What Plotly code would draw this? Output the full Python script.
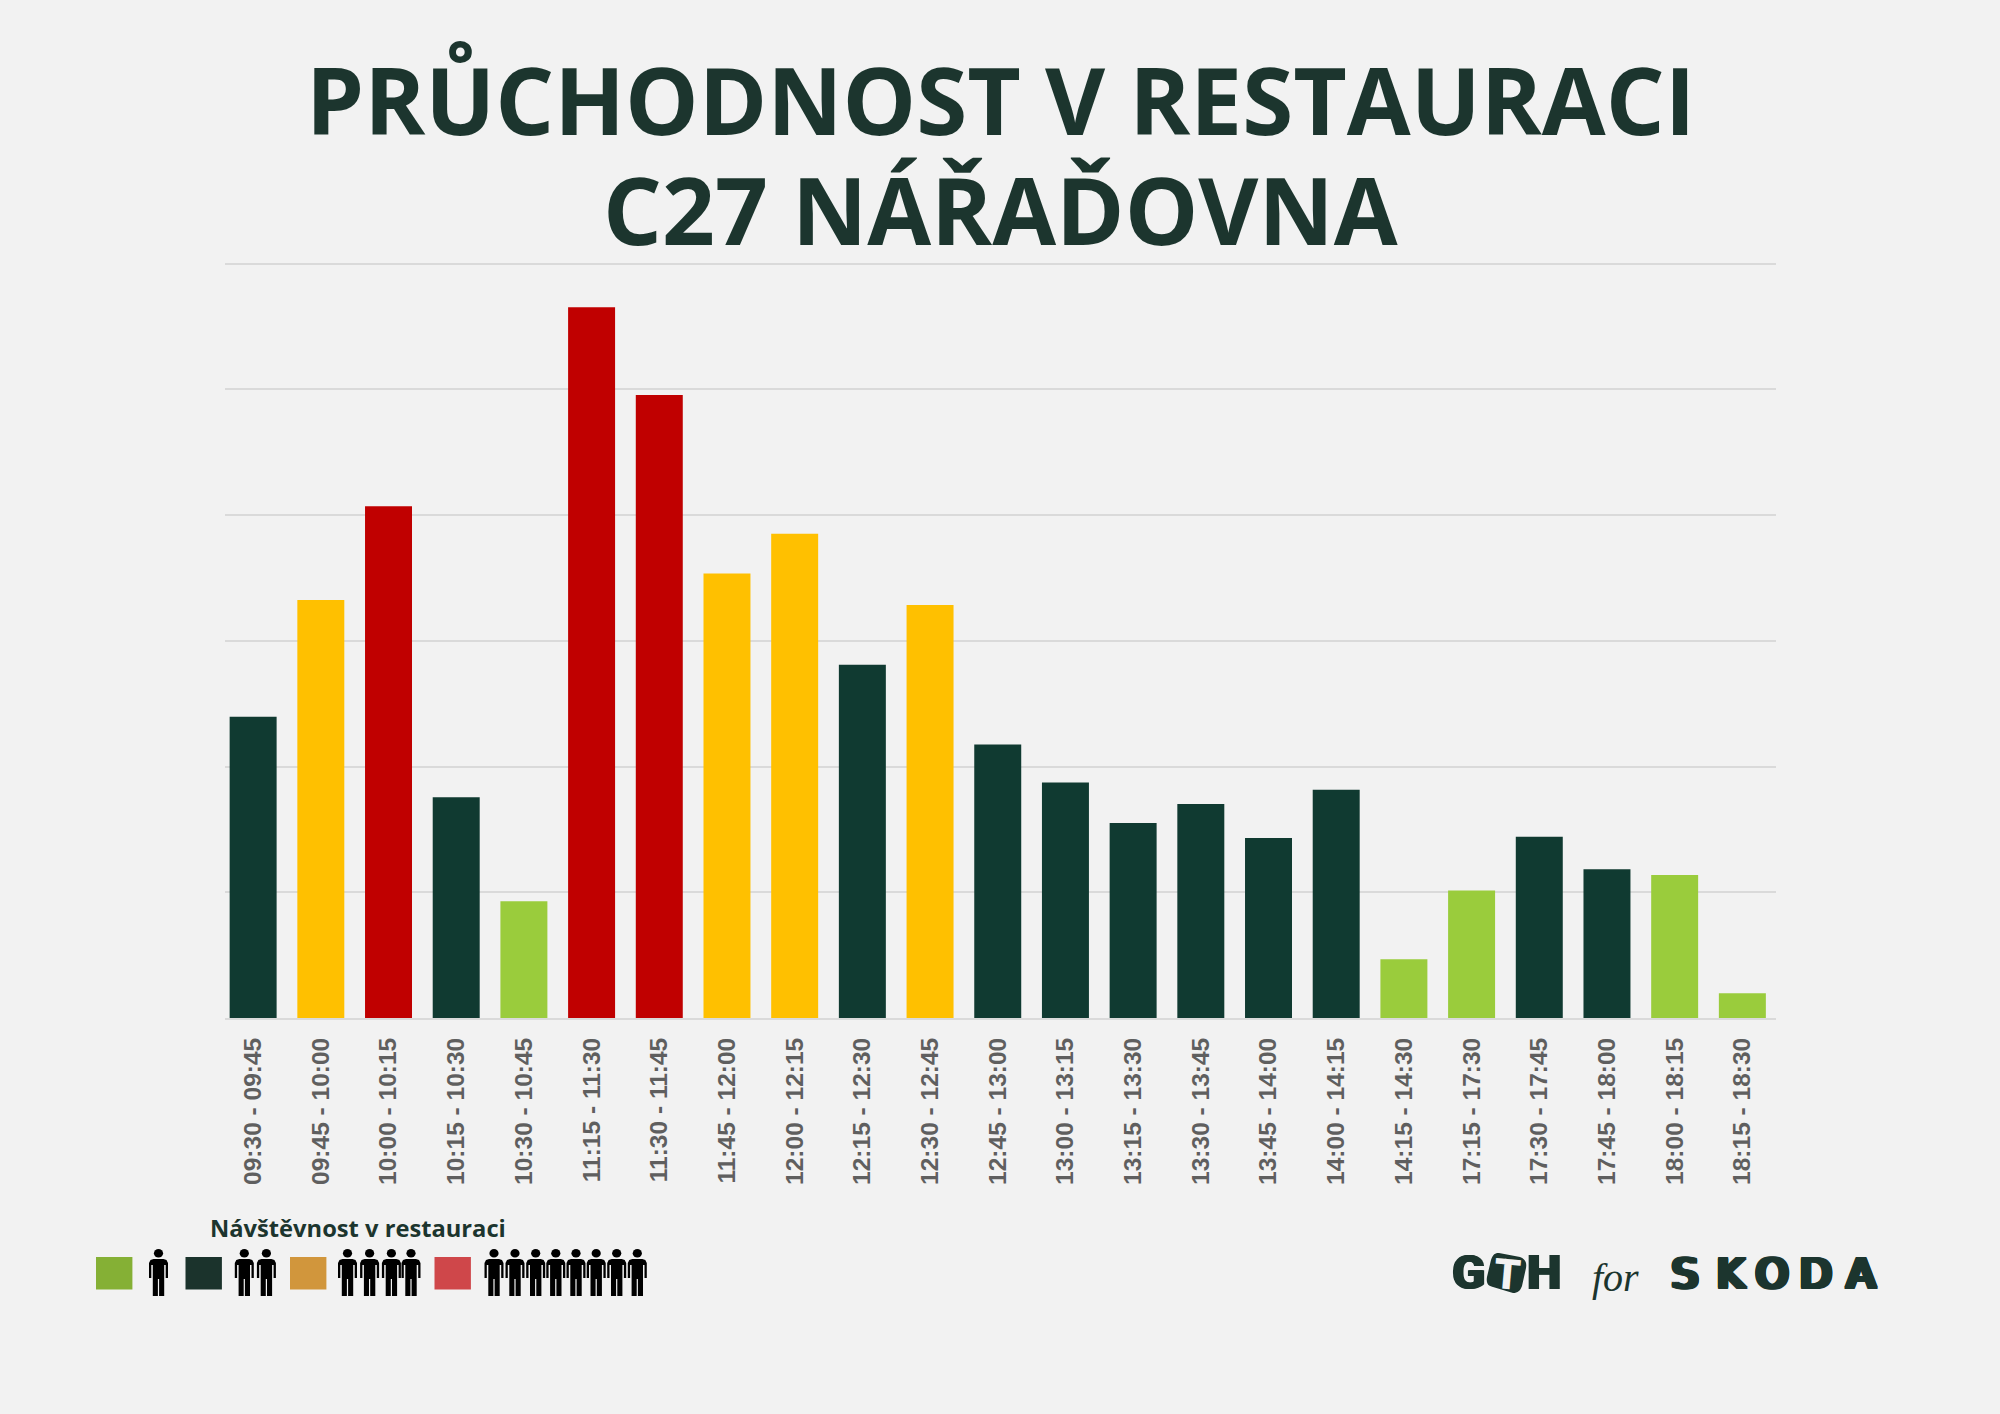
import plotly.graph_objects as go

W, H = 2000, 1414

slots = ["09:30 - 09:45", "09:45 - 10:00", "10:00 - 10:15", "10:15 - 10:30", "10:30 - 10:45",
         "11:15 - 11:30", "11:30 - 11:45", "11:45 - 12:00", "12:00 - 12:15", "12:15 - 12:30",
         "12:30 - 12:45", "12:45 - 13:00", "13:00 - 13:15", "13:15 - 13:30", "13:30 - 13:45",
         "13:45 - 14:00", "14:00 - 14:15", "14:15 - 14:30", "17:15 - 17:30", "17:30 - 17:45",
         "17:45 - 18:00", "18:00 - 18:15", "18:15 - 18:30"]
visits = [23.95, 33.25, 40.7, 17.55, 9.28, 56.52, 49.55, 35.35, 38.5, 28.1, 32.85, 21.75,
          18.72, 15.5, 17.02, 14.32, 18.15, 4.68, 10.13, 14.42, 11.82, 11.38, 1.96]
levels = ["d", "y", "r", "d", "g", "r", "r", "y", "y", "d", "y", "d",
          "d", "d", "d", "d", "d", "g", "g", "d", "d", "g", "g"]
level_colors = {"g": "#9ACC3C", "d": "#103A31", "y": "#FFC000", "r": "#C00000"}

INK = "#1C352E"
BG = "#F2F2F2"
GRID = "#DADADA"

legend_swatches = [(96, "#85B035"), (185.5, "#1B332C"), (290, "#D1963C"), (434.5, "#CF474A")]
legend_people = [[158.5], [244.3, 266.4], [347.5, 369.6, 391.4, 411],
                 [494, 515, 535.7, 555.8, 576, 596.2, 616.7, 637.3]]


def px(x):
    return x / W


def py(y):
    return 1 - y / H


def person_path(cx, top):
    """Standing figure in page pixels, without the head: shoulders, arms and two legs."""
    half = [(5, 10), (8, 11), (9.5, 14), (9.5, 29), (7.2, 29), (7.2, 16), (5.7, 16), (5.7, 47), (0.6, 47), (0.6, 30)]
    pts = half + [(-a, b) for a, b in reversed(half)]
    return "M " + " L ".join(f"{px(cx + a):.5f},{py(top + b):.5f}" for a, b in pts) + " Z"


shapes = []
for (x0, colour), group in zip(legend_swatches, legend_people):
    shapes.append(dict(type="rect", xref="paper", yref="paper", x0=px(x0), x1=px(x0 + 36.4),
                       y0=py(1289.5), y1=py(1257), fillcolor=colour, line_width=0))
    for cx in group:
        shapes.append(dict(type="path", xref="paper", yref="paper", path=person_path(cx, 1249),
                           fillcolor="#000000", line_width=0))
        shapes.append(dict(type="circle", xref="paper", yref="paper", x0=px(cx - 4.6), x1=px(cx + 4.6),
                           y0=py(1257.6), y1=py(1249), fillcolor="#000000", line_width=0))

# Rounded, slightly tilted tile behind the T of the GTH wordmark
shapes.append(dict(type="path", xref="paper", yref="paper", fillcolor=INK, line_width=0,
                   path="M {} C {} {} {} L {} C {} {} {} L {} C {} {} {} L {} C {} {} {} Z".format(
                       *[f"{px(a):.5f},{py(b):.5f}" for a, b in [
                           (1499, 1253), (1495, 1253), (1493, 1254), (1491, 1260),
                           (1487, 1277), (1486, 1283), (1488, 1286), (1493, 1287),
                           (1513, 1293), (1518, 1293), (1520, 1291), (1522, 1286),
                           (1526, 1268), (1527, 1262), (1525, 1259), (1520, 1257),
                           ]])))


def label(text, x, y, size, family="Open Sans", weight=700, color=INK, angle=0, shadow=None):
    font = dict(family=family, size=size, weight=weight, color=color)
    if shadow:
        font["shadow"] = shadow
    return dict(text=text, x=px(x), y=py(y), xref="paper", yref="paper", showarrow=False,
                xanchor="center", yanchor="bottom", textangle=angle, borderpad=0, borderwidth=0,
                font=font)


heavy = f"1px 0 0 {INK}, -1px 0 0 {INK}"
wide = ", ".join(f"{dx}px {dy}px 0 {INK}" for dx, dy in
                 [(3, 0), (-3, 0), (1.5, 0), (-1.5, 0), (3, 1), (-3, 1), (1.5, 1), (-1.5, 1), (0, 1), (3, -1), (-3, -1), (1.5, -1), (-1.5, -1), (0, -1)])

annotations = [
    label("PRŮCHODNOST V RESTAURACI", 1000, 162.5, 92.6),
    label("C27 NÁŘAĎOVNA", 1000, 272.5, 92.6),
    label("Návštěvnost v restauraci", 358, 1244, 23.7),
    label("G", 1468, 1301, 49, "Roboto", 900, shadow=heavy),
    label("T", 1507, 1300, 42, "Roboto", 900, BG, angle=5),
    label("H", 1544, 1301, 49, "Roboto", 900, shadow=heavy),
    label("for", 1615, 1300, 40, "Liberation Serif", 400),
]
annotations[-1]["font"]["style"] = "italic"
for ch, cx in zip("SKODA", [1685, 1731, 1772, 1816, 1861]):
    annotations.append(label(ch, cx, 1298, 41, "DejaVu Sans", 400, shadow=wide))

fig = go.Figure(go.Bar(x=slots, y=visits, width=0.694,
                       marker=dict(color=[level_colors[k] for k in levels], line_width=0)))
fig.update_layout(
    width=W, height=H, margin=dict(l=0, r=0, t=0, b=0, pad=0), autosize=False,
    paper_bgcolor=BG, plot_bgcolor=BG, showlegend=False,
    shapes=shapes, annotations=annotations,
    xaxis=dict(domain=[px(224.7), px(1776)], type="category", range=[-0.42, 22.497],
               tickangle=-90, showgrid=False, showline=True, linecolor=GRID, linewidth=2,
               ticks="", ticklabelstandoff=8,
               tickfont=dict(family="Liberation Sans", size=24.5, weight=700, color="#5F5F5F")),
    yaxis=dict(domain=[py(1018), py(262)], range=[0, 60.12], dtick=10, showticklabels=False,
               showgrid=True, gridcolor=GRID, gridwidth=2, zeroline=False, ticks=""),
)
fig.write_html("out.html")
